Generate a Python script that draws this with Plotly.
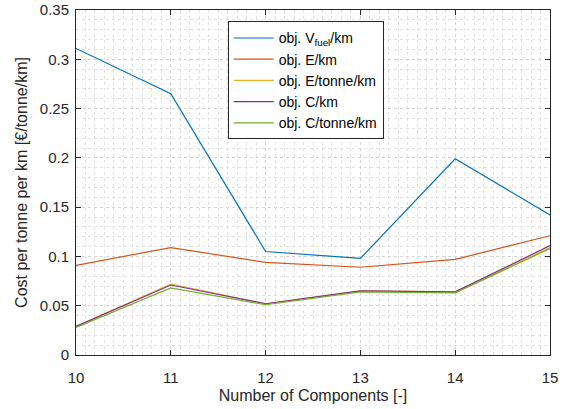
import plotly.graph_objects as go

components = [10, 11, 12, 13, 14, 15]
v_fuel_km = [0.311, 0.265, 0.105, 0.098, 0.199, 0.142]
e_km = [0.091, 0.109, 0.094, 0.089, 0.097, 0.121]
e_tonne_km = [0.029, 0.072, 0.052, 0.065, 0.064, 0.109]
c_km = [0.029, 0.071, 0.052, 0.065, 0.064, 0.111]
c_tonne_km = [0.028, 0.068, 0.051, 0.064, 0.063, 0.108]

series = [
    ("obj. V<sub>fuel</sub>/km", v_fuel_km, "#0072BD"),
    ("obj. E/km", e_km, "#D95319"),
    ("obj. E/tonne/km", e_tonne_km, "#EDB120"),
    ("obj. C/km", c_km, "#7E2F8E"),
    ("obj. C/tonne/km", c_tonne_km, "#77AC30"),
]

fig = go.Figure()
for name, vals, color in series:
    fig.add_trace(go.Scatter(x=components, y=vals, mode="lines", name=name,
                             line=dict(color=color, width=1.2)))

axis_common = dict(
    showline=True, linecolor="#262626", linewidth=1, mirror="ticks",
    ticks="inside", ticklen=5, tickcolor="#262626",
    showgrid=True, gridcolor="#d4d4d4", griddash="dot", gridwidth=1,
    zeroline=False, automargin=False,
    tickfont=dict(size=15, color="#262626"),
)

fig.update_xaxes(range=[10, 15], dtick=1, tick0=10, ticklabelstandoff=9,
                 title=dict(text="Number of Components [-]", font=dict(size=16, color="#262626"), standoff=4),
                 minor=dict(dtick=0.1, showgrid=True, gridcolor="#e2e2e2", griddash="dot", ticks=""),
                 **axis_common)
fig.update_yaxes(range=[0, 0.35], dtick=0.05, tick0=0, ticklabelstandoff=3,
                 title=dict(text="Cost per tonne per km [€/tonne/km]", font=dict(size=16, color="#262626"), standoff=8),
                 minor=dict(dtick=0.01, showgrid=True, gridcolor="#e2e2e2", griddash="dot", ticks=""),
                 **axis_common)

fig.update_layout(
    width=565, height=409,
    margin=dict(l=76, r=15, t=10, b=54),
    paper_bgcolor="white", plot_bgcolor="white",
    font=dict(family="Liberation Sans, Arial, sans-serif", color="#262626"),
    legend=dict(x=0.32, y=0.967, xanchor="left", yanchor="top",
                bgcolor="white", bordercolor="#262626", borderwidth=1,
                font=dict(size=14, color="#000000"), tracegroupgap=0, itemwidth=40),
)

fig.write_html("out.html")
